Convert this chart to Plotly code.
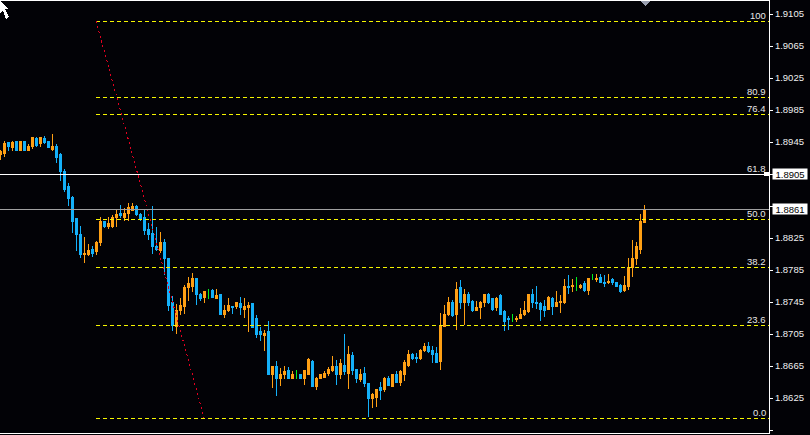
import plotly.graph_objects as go

high = [1.8935,1.8946,1.8944,1.8946,1.8946,1.8946,1.8946,1.8943,1.8951,1.8951,1.8951,1.8953,1.8946,1.8955,1.8943,1.8931,1.8911,1.8894,1.8878,1.8849,1.8840,
        1.8826,1.8818,1.8815,1.8821,1.8851,1.8846,1.8851,1.8854,1.8861,1.8866,1.8863,1.8869,1.8869,1.8866,1.8856,1.8861,1.8844,1.8865,1.8839,1.8833,
        1.8824,1.8800,1.8753,1.8743,1.8750,1.8766,1.8776,1.8781,1.8775,1.8756,1.8758,1.8761,1.8761,1.8761,1.8755,1.8741,1.8750,1.8740,1.8745,1.8751,
        1.8750,1.8745,1.8744,1.8729,1.8714,1.8710,1.8721,1.8665,1.8671,1.8663,1.8665,1.8664,1.8659,1.8660,1.8655,1.8659,1.8675,1.8673,1.8651,1.8655,
        1.8659,1.8664,1.8678,1.8673,1.8674,1.8705,1.8690,1.8683,1.8661,1.8661,1.8664,1.8643,1.8631,1.8636,1.8645,1.8651,1.8653,1.8655,1.8659,1.8660,
        1.8673,1.8685,1.8681,1.8681,1.8686,1.8694,1.8695,1.8690,1.8689,1.8731,1.8741,1.8751,1.8748,1.8770,1.8773,1.8761,1.8758,1.8748,1.8746,1.8746,
        1.8755,1.8756,1.8749,1.8751,1.8755,1.8735,1.8728,1.8730,1.8728,1.8738,1.8746,1.8755,1.8761,1.8765,1.8745,1.8748,1.8753,1.8751,1.8759,1.8754,
        1.8774,1.8779,1.8774,1.8776,1.8768,1.8771,1.8774,1.8780,1.8780,1.8780,1.8779,1.8780,1.8775,1.8770,1.8768,1.8778,1.8800,1.8823,1.8820,1.8855,1.8866]
body_top = [1.8933,1.8943,1.8944,1.8945,1.8946,1.8946,1.8946,1.8940,1.8951,1.8950,1.8951,1.8950,1.8946,1.8940,1.8940,1.8929,1.8908,1.8889,1.8876,1.8849,1.8830,
        1.8806,1.8810,1.8811,1.8820,1.8846,1.8846,1.8843,1.8851,1.8855,1.8856,1.8856,1.8863,1.8865,1.8864,1.8854,1.8851,1.8836,1.8831,1.8815,1.8819,
        1.8820,1.8800,1.8744,1.8734,1.8741,1.8763,1.8768,1.8775,1.8774,1.8754,1.8758,1.8758,1.8760,1.8753,1.8754,1.8735,1.8741,1.8740,1.8744,1.8743,
        1.8740,1.8741,1.8743,1.8725,1.8708,1.8706,1.8708,1.8665,1.8665,1.8655,1.8658,1.8659,1.8654,1.8651,1.8655,1.8659,1.8673,1.8671,1.8649,1.8654,
        1.8656,1.8661,1.8664,1.8665,1.8668,1.8666,1.8679,1.8678,1.8661,1.8655,1.8656,1.8643,1.8629,1.8636,1.8638,1.8650,1.8650,1.8655,1.8655,1.8658,
        1.8669,1.8679,1.8680,1.8676,1.8685,1.8689,1.8690,1.8685,1.8681,1.8715,1.8730,1.8745,1.8744,1.8761,1.8763,1.8755,1.8755,1.8746,1.8738,1.8745,
        1.8754,1.8755,1.8749,1.8750,1.8753,1.8733,1.8725,1.8725,1.8725,1.8729,1.8735,1.8755,1.8754,1.8745,1.8743,1.8739,1.8751,1.8750,1.8744,1.8746,
        1.8764,1.8765,1.8766,1.8765,1.8766,1.8768,1.8774,1.8774,1.8775,1.8776,1.8770,1.8771,1.8773,1.8769,1.8766,1.8766,1.8788,1.8800,1.8814,1.8846,1.8861]
body_bottom = [1.8929,1.8931,1.8939,1.8938,1.8934,1.8934,1.8934,1.8935,1.8939,1.8941,1.8943,1.8945,1.8938,1.8936,1.8926,1.8908,1.8886,1.8874,1.8846,1.8830,1.8805,
        1.8804,1.8805,1.8806,1.8808,1.8820,1.8840,1.8840,1.8839,1.8851,1.8853,1.8851,1.8856,1.8859,1.8854,1.8849,1.8834,1.8829,1.8814,1.8811,1.8810,
        1.8799,1.8741,1.8716,1.8715,1.8734,1.8739,1.8763,1.8765,1.8754,1.8750,1.8751,1.8758,1.8751,1.8750,1.8729,1.8729,1.8735,1.8738,1.8739,1.8738,
        1.8736,1.8738,1.8713,1.8705,1.8704,1.8703,1.8654,1.8654,1.8649,1.8649,1.8654,1.8649,1.8650,1.8651,1.8650,1.8649,1.8655,1.8640,1.8639,1.8649,
        1.8651,1.8656,1.8659,1.8654,1.8654,1.8658,1.8656,1.8660,1.8649,1.8648,1.8643,1.8624,1.8624,1.8626,1.8635,1.8636,1.8641,1.8640,1.8644,1.8645,
        1.8655,1.8666,1.8674,1.8674,1.8674,1.8684,1.8683,1.8679,1.8670,1.8671,1.8714,1.8729,1.8728,1.8729,1.8745,1.8745,1.8744,1.8734,1.8734,1.8738,
        1.8745,1.8745,1.8736,1.8738,1.8730,1.8721,1.8723,1.8725,1.8723,1.8725,1.8729,1.8733,1.8745,1.8743,1.8736,1.8735,1.8736,1.8740,1.8740,1.8744,
        1.8745,1.8763,1.8764,1.8765,1.8763,1.8759,1.8759,1.8774,1.8773,1.8769,1.8768,1.8769,1.8769,1.8765,1.8758,1.8759,1.8765,1.8788,1.8799,1.8811,1.8845]
low = [1.8923,1.8926,1.8934,1.8934,1.8934,1.8934,1.8934,1.8934,1.8936,1.8939,1.8939,1.8943,1.8938,1.8934,1.8919,1.8896,1.8883,1.8865,1.8831,1.8809,1.8800,
        1.8794,1.8803,1.8801,1.8804,1.8815,1.8838,1.8836,1.8838,1.8839,1.8850,1.8846,1.8846,1.8859,1.8853,1.8846,1.8829,1.8823,1.8805,1.8809,1.8806,
        1.8779,1.8734,1.8709,1.8705,1.8729,1.8730,1.8746,1.8758,1.8741,1.8746,1.8744,1.8749,1.8751,1.8749,1.8729,1.8725,1.8733,1.8730,1.8736,1.8729,
        1.8725,1.8708,1.8713,1.8700,1.8696,1.8684,1.8654,1.8638,1.8628,1.8640,1.8649,1.8649,1.8649,1.8649,1.8650,1.8641,1.8654,1.8639,1.8635,1.8649,
        1.8651,1.8653,1.8658,1.8641,1.8649,1.8654,1.8636,1.8654,1.8644,1.8645,1.8639,1.8601,1.8613,1.8614,1.8623,1.8633,1.8640,1.8640,1.8644,1.8640,
        1.8646,1.8664,1.8673,1.8669,1.8673,1.8683,1.8681,1.8669,1.8669,1.8660,1.8714,1.8728,1.8726,1.8710,1.8736,1.8716,1.8740,1.8733,1.8734,1.8724,
        1.8739,1.8743,1.8734,1.8734,1.8730,1.8709,1.8710,1.8720,1.8720,1.8724,1.8728,1.8731,1.8738,1.8736,1.8721,1.8726,1.8735,1.8729,1.8740,1.8731,
        1.8743,1.8755,1.8758,1.8759,1.8761,1.8758,1.8754,1.8773,1.8770,1.8769,1.8764,1.8768,1.8766,1.8764,1.8756,1.8758,1.8760,1.8776,1.8791,1.8805,1.8845]

# Candle direction, read one by one; any other candle falls.
rising = [0,1,3,5,7,8,10,13,21,22,24,25,27,28,29,31,32,33,40,44,45,46,47,48,51,54,56,57,59,61,62,66,68,70,71,73,76,77,79,80,81,82,83,85,87,90,93,94,96,98,
          100,101,102,105,106,110,111,112,114,116,119,120,121,124,129,130,131,132,137,139,140,141,143,145,147,149,152,156,157,158,159,160,161]
doji = [52, 74, 128, 144, 148]

N = len(high)
index = list(range(N))
open_ = [body_bottom[i] if i in rising else body_top[i] for i in index]
close = [body_top[i] if i in rising else body_bottom[i] for i in index]

fib_labels = ["100", "80.9", "76.4", "61.8", "50.0", "38.2", "23.6", "0.0"]
fib_levels = [1.9096, 1.9001, 1.8979, 1.8905, 1.8848, 1.8788, 1.8716, 1.8600]
bid_price = 1.8905
last_price = 1.8861
trend_x = [23.9, 50.9]
trend_y = [1.9096, 1.8600]
price_ticks = [1.9105, 1.9065, 1.9025, 1.8985, 1.8945, 1.8905, 1.8865, 1.8825,
               1.8785, 1.8745, 1.8705, 1.8665, 1.8625, 1.8585]
boxed_ticks = [1.8905, 1.8865]  # these sit behind the price boxes

BG = "#020206"
ORANGE = "#FFA014"
BLUE = "#14B0F8"
GREEN = "#00F020"
YELLOW = "#F5F500"
W, H, PR = 810, 435, 769
X_RANGE = [-0.125, 192.125]
Y_RANGE = [1.858125, 1.912125]
FONT = "Liberation Sans"
FS = 9.5


def px(x):
    return x / PR


def py(y):
    return 1 - (y - 1) / 432


def poly(points):
    return "M" + " L".join(f"{px(a):.5f},{py(b):.5f}" for a, b in points) + " Z"


fig = go.Figure()


def candles(idx, inc, dec):
    fig.add_trace(go.Candlestick(
        x=idx,
        open=[open_[i] for i in idx], high=[high[i] for i in idx],
        low=[low[i] for i in idx], close=[close[i] for i in idx],
        increasing=dict(line=dict(color=inc, width=1), fillcolor=inc),
        decreasing=dict(line=dict(color=dec, width=1), fillcolor=dec),
        whiskerwidth=0, showlegend=False, hoverinfo="skip",
    ))


candles([i for i in index if i not in doji], ORANGE, BLUE)
candles(doji, GREEN, GREEN)

for level in fib_levels:
    fig.add_trace(go.Scatter(x=[trend_x[0], X_RANGE[1]], y=[level, level], mode="lines",
                             line=dict(color=YELLOW, width=1, dash="4px,3px"),
                             showlegend=False, hoverinfo="skip"))
fig.add_trace(go.Scatter(x=trend_x, y=trend_y, mode="lines",
                         line=dict(color="#E00020", width=1, dash="2px,3px"),
                         showlegend=False, hoverinfo="skip"))
fig.add_trace(go.Scatter(x=X_RANGE, y=[bid_price, bid_price], mode="lines",
                         line=dict(color="#FFFFFF", width=1), showlegend=False, hoverinfo="skip"))
fig.add_trace(go.Scatter(x=X_RANGE, y=[last_price, last_price], mode="lines",
                         line=dict(color="#A0A0A0", width=1), showlegend=False, hoverinfo="skip"))

annotations = []
for label, level in zip(fib_labels, fib_levels):
    annotations.append(dict(text=label, xref="paper", yref="y", x=px(768), y=level, xanchor="right",
                            yanchor="middle", yshift=6, showarrow=False,
                            font=dict(family=FONT, size=FS, color="#E8E8E8")))
for price in (bid_price, last_price):
    annotations.append(dict(text=f"{price:.4f}", xref="paper", yref="y", x=px(772), y=price,
                            xanchor="left", yanchor="middle", showarrow=False, bgcolor="#FFFFFF",
                            width=34, height=10, borderpad=0, align="center",
                            font=dict(family=FONT, size=FS, color="#000000")))

shapes = [
    dict(type="rect", xref="paper", yref="y", x0=px(764), x1=px(769), y0=bid_price - 0.00025,
         y1=bid_price + 0.00025, fillcolor="#FFFFFF", line=dict(width=0)),
    dict(type="path", xref="paper", yref="paper",
         path=poly([(640, 1), (651, 1), (645.5, 6)]), fillcolor="#9AA0B0", line=dict(width=0)),
    dict(type="path", xref="paper", yref="paper",
         path=poly([(0, 1), (9, 9), (5, 9), (9, 17), (6, 19), (3, 11), (0, 14)]),
         fillcolor="#FFFFFF", line=dict(width=0)),
]

fig.update_layout(
    width=W, height=H, margin=dict(l=0, r=W - PR, t=1, b=2),
    paper_bgcolor=BG, plot_bgcolor=BG, boxgap=0.35, showlegend=False,
    annotations=annotations, shapes=shapes, hovermode=False,
    xaxis=dict(range=X_RANGE, rangeslider=dict(visible=False), showgrid=False, zeroline=False,
               showticklabels=False, ticks="", showline=True, mirror=True, linecolor="#FFFFFF",
               linewidth=1),
    yaxis=dict(range=Y_RANGE, side="right", showgrid=False, zeroline=False, tickmode="array",
               tickvals=price_ticks,
               ticktext=["" if v in boxed_ticks else f"{v:.4f}" for v in price_ticks],
               ticks="outside", ticklen=3, tickcolor="#FFFFFF", showline=True,
               linecolor="#FFFFFF", linewidth=1,
               tickfont=dict(family=FONT, size=FS, color="#F0F0F0")),
)

crisp = ("var s=document.createElement('style');"
         "s.textContent='.main-svg path{shape-rendering:crispEdges !important}';"
         "document.head.appendChild(s);document.body.style.margin='0';")
fig.write_html("out.html", config=dict(displayModeBar=False, staticPlot=True), post_script=crisp)
